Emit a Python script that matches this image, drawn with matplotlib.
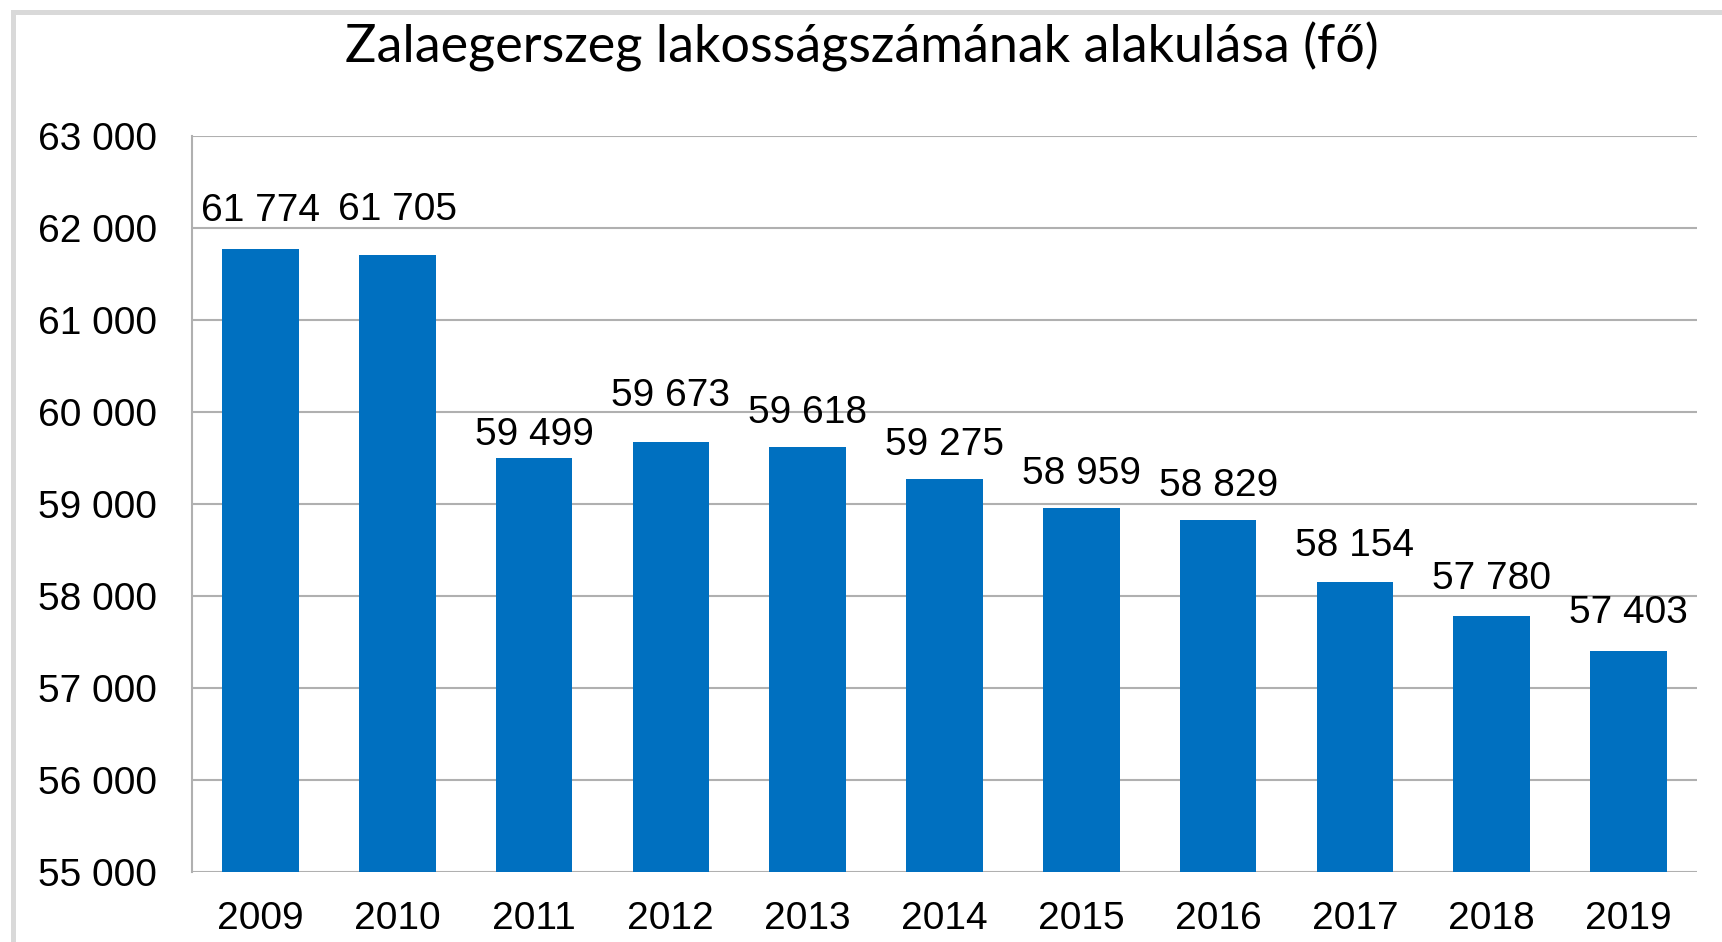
"""Zalaegerszeg population bar chart."""

import matplotlib.pyplot as plt
from matplotlib.patches import Rectangle
from matplotlib.ticker import FuncFormatter

years = ["2009", "2010", "2011", "2012", "2013", "2014",
         "2015", "2016", "2017", "2018", "2019"]
population = [61774, 61705, 59499, 59673, 59618, 59275,
              58959, 58829, 58154, 57780, 57403]

# vertical nudge of each value label above its bar (points)
label_offsets = [14, 19.5, 4, 20, 11.5, 11.5, 11.5, 11.5, 13, 14, 14]


def hu_thousands(v, _pos=None):
    # Hungarian style: space as thousands separator
    return f"{int(v):,}".replace(",", " ")


W, H = 1722, 942
fig = plt.figure(figsize=(W / 100, H / 100), dpi=100)
fig.patch.set_facecolor("white")

# Light gray frame on the left and top (the picture is cropped at right/bottom)
fig.add_artist(Rectangle((12.5 / W, -0.1), 1.2, 1.1 - 12.5 / H,
                         transform=fig.transFigure, fill=False,
                         edgecolor="#d9d9d9", linewidth=3.6))

ax = fig.add_axes([192 / W, (H - 872) / H, 1505 / W, 736 / H])

x = range(len(years))
bars = ax.bar(x, population, width=0.56, color="#0070c0", zorder=3)

ax.set_xlim(-0.5, len(years) - 0.5)
ax.set_ylim(55000, 63000)
ax.set_yticks(range(55000, 63001, 1000))
ax.yaxis.set_major_formatter(FuncFormatter(hu_thousands))
ax.set_xticks(list(x))
ax.set_xticklabels(years)

ax.tick_params(axis="both", length=0, labelsize=28, labelcolor="black")
ax.tick_params(axis="y", pad=25)
ax.tick_params(axis="x", pad=21)
for lab in ax.get_xticklabels() + ax.get_yticklabels():
    lab.set_fontfamily("Liberation Sans")

ax.grid(axis="y", color="#b0b0b0", linewidth=1.5, zorder=0)
for side in ["top", "right", "bottom"]:
    ax.spines[side].set_visible(False)
ax.spines["left"].set_color("#b0b0b0")
ax.spines["left"].set_linewidth(1.5)

# Value labels above the bars
for xi, val, off in zip(x, population, label_offsets):
    ax.annotate(hu_thousands(val), (xi, val), xytext=(0, off),
                textcoords="offset points", ha="center", va="bottom",
                fontsize=28, family="Liberation Sans", color="black")

fig.text(862 / W, 1 - 63 / H, "Zalaegerszeg lakosságszámának alakulása (fő)",
         ha="center", va="baseline", fontsize=37.5, family="Lato",
         color="black")

fig.savefig("out.png", dpi=100)
